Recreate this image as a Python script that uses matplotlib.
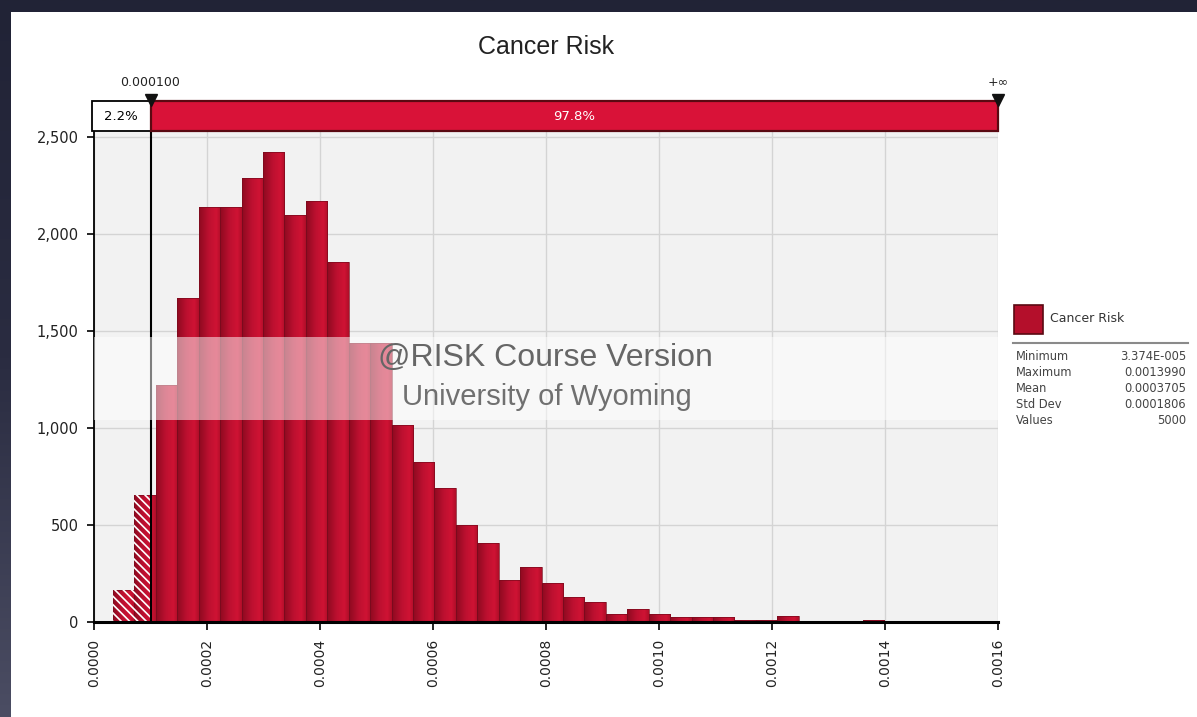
import numpy as np
import matplotlib
matplotlib.use("Agg")
import matplotlib.pyplot as plt
from matplotlib.patches import Rectangle
from matplotlib.lines import Line2D
from matplotlib.ticker import FuncFormatter
from matplotlib.colors import LinearSegmentedColormap

# ---------------- data ----------------
chart_title = "Cancer Risk"
series_name = "Cancer Risk"
stat_min = 3.374e-5
stat_max = 0.0013990
# probability density per bin (36 equal bins from min to max)
densities = [165, 655, 1222, 1670, 2139, 2139, 2289, 2423, 2098, 2170,
             1856, 1438, 1438, 1015, 825, 690, 500, 407, 216, 283,
             200, 130, 105, 40, 65, 40, 25, 25, 25, 12,
             12, 30, 3, 2, 0, 12]
delimiter_left = 0.0001
delimiter_left_label = "0.000100"
delimiter_right_label = "+\u221e"
left_pct = "2.2%"
right_pct = "97.8%"
x_ticks = [0.0, 0.0002, 0.0004, 0.0006, 0.0008, 0.0010, 0.0012, 0.0014, 0.0016]
y_ticks = [0, 500, 1000, 1500, 2000, 2500]
stat_labels = ["Minimum", "Maximum", "Mean", "Std Dev", "Values"]
stat_values = ["3.374E-005", "0.0013990", "0.0003705", "0.0001806", "5000"]
watermark_1 = "@RISK Course Version"
watermark_2 = "University of Wyoming"

# ---------------- layout helpers ----------------
W, H = 1197, 717
fig = plt.figure(figsize=(W / 100, H / 100), dpi=100)
fx = lambda px: px / W
fy = lambda py: 1 - py / H

# background: dark frame with white panel
bg = fig.add_axes([0, 0, 1, 1], zorder=-10)
bg.axis("off")
bg_cmap = LinearSegmentedColormap.from_list("bg", ["#212336", "#2a2c41", "#4b4d63"])
bg.imshow(np.linspace(0, 1, 256).reshape(-1, 1), aspect="auto", cmap=bg_cmap,
          extent=[0, 1, 0, 1], origin="upper")
bg.set_xlim(0, 1)
bg.set_ylim(0, 1)
bg.add_patch(Rectangle((fx(11), 0), 1 - fx(11), 1 - 12 / H, color="white", lw=0))

# ---------------- main axes ----------------
ax_l, ax_r, ax_t, ax_b = 94, 998, 132, 622
ax = fig.add_axes([fx(ax_l), fy(ax_b), (ax_r - ax_l) / W, (ax_b - ax_t) / H])
ax.set_facecolor("#f2f2f2")
ax.set_xlim(x_ticks[0], x_ticks[-1])
ax.set_ylim(0, 2526)
ax.set_xticks(x_ticks)
ax.set_yticks(y_ticks)
ax.xaxis.set_major_formatter(FuncFormatter(lambda v, p: f"{v:.4f}"))
ax.yaxis.set_major_formatter(FuncFormatter(lambda v, p: f"{int(v):,}"))
ax.set_axisbelow(True)
ax.grid(True, color="#d4d4d4", lw=1.0)
for s in ["top", "right"]:
    ax.spines[s].set_visible(False)
ax.spines["left"].set_linewidth(1.3)
ax.spines["bottom"].set_linewidth(2.2)
ax.tick_params(axis="x", direction="out", length=6, width=1.2, labelsize=10,
               labelrotation=90, labelcolor="#222222", pad=6)
ax.tick_params(axis="y", direction="out", length=5, width=1.2, labelsize=10.5,
               labelcolor="#222222", pad=6)

# bars
edges = np.linspace(stat_min, stat_max, len(densities) + 1)
widths = np.diff(edges)
bars = ax.bar(edges[:-1], densities, width=widths, align="edge",
              color="#b80f2b", edgecolor="none", linewidth=0, zorder=2)
bar_cmap = LinearSegmentedColormap.from_list(
    "bar", [(0, "#8e0a20"), (0.45, "#bd1030"), (0.8, "#cf1334"), (1, "#b00e29")])
grad = np.linspace(0, 1, 64).reshape(1, -1)
for p in bars:
    x0, w, h = p.get_x(), p.get_width(), p.get_height()
    if h <= 0:
        continue
    im = ax.imshow(grad, extent=[x0, x0 + w, 0, h], aspect="auto", cmap=bar_cmap,
                   zorder=2.1, interpolation="bilinear")
    im.set_clip_path(p)
ax.bar(edges[:-1], densities, width=widths, align="edge", facecolor="none",
       edgecolor="#7a0b1d", linewidth=0.5, zorder=2.3)

# hatched part left of delimiter
plt.rcParams["hatch.linewidth"] = 1.2
clip_rect = Rectangle((0, 0), delimiter_left, 1, transform=ax.get_xaxis_transform())
hb = ax.bar(edges[:-1], densities, width=widths, align="edge", facecolor="none",
            edgecolor="white", hatch="\\\\\\\\", linewidth=0, zorder=2.4)
for p in hb:
    p.set_clip_path(clip_rect)

ax.axvline(delimiter_left, color="black", lw=1.5, zorder=5)
ax.set_xlim(x_ticks[0], x_ticks[-1])
ax.set_ylim(0, 2526)

# watermark band + text
band = Rectangle((fx(ax_l), fy(420)), (ax_r - ax_l) / W, 83 / H, transform=fig.transFigure,
                 facecolor="white", alpha=0.5, lw=0, zorder=6)
ax.add_patch(band)
band.set_clip_on(False)
fig.text(fx(545), fy(358), watermark_1, ha="center", va="center", fontsize=23,
         family="Liberation Sans", color="#666666", zorder=10)
fig.text(fx(547), fy(397), watermark_2, ha="center", va="center", fontsize=21,
         family="Liberation Sans", color="#707070", zorder=10)

# ---------------- delimiter bar ----------------
dax = fig.add_axes([fx(ax_l), fy(131), (ax_r - ax_l) / W, 30 / H])
dax.set_xlim(x_ticks[0], x_ticks[-1])
dax.set_ylim(0, 1)
dax.axis("off")
x_box_left = -0.0000035
dax.add_patch(Rectangle((x_box_left, 0), delimiter_left - x_box_left, 1, facecolor="white",
                        edgecolor="black", lw=1.3, clip_on=False))
dax.add_patch(Rectangle((delimiter_left, 0), x_ticks[-1] - delimiter_left, 1,
                        facecolor="#d91238", edgecolor="#5a0912", lw=1.6, clip_on=False))
dax.text((x_box_left + delimiter_left) / 2, 0.5, left_pct, ha="center", va="center",
         fontsize=9.5, color="black")
dax.text((delimiter_left + x_ticks[-1]) / 2, 0.5, right_pct, ha="center", va="center",
         fontsize=9.5, color="white")
dax.plot([delimiter_left, x_ticks[-1]], [1.05, 1.05], ls="none", marker="v", ms=9,
         color="#111111", clip_on=False)
dax.text(delimiter_left, 1.6, delimiter_left_label, ha="center", va="center",
         fontsize=9, color="#222222")
dax.text(x_ticks[-1], 1.6, delimiter_right_label, ha="center", va="center",
         fontsize=9, color="#222222")

# title
fig.text(fx(546), fy(47), chart_title, ha="center", va="center", fontsize=18,
         family="Liberation Sans", color="#222222")

# ---------------- legend ----------------
fig.patches.append(Rectangle((fx(1014), fy(334)), 29 / W, 29 / H, transform=fig.transFigure,
                             facecolor="#b40f2b", edgecolor="#5a0912", lw=1.2, figure=fig))
fig.text(fx(1050), fy(319), series_name, ha="left", va="center", fontsize=9,
         color="#333333")
fig.lines.append(Line2D([fx(1013), fx(1188)], [fy(343), fy(343)], transform=fig.transFigure,
                        color="#8a8a8a", lw=1.5, figure=fig))
row_y = [357, 373, 389, 405, 421]
for lab, val, yy in zip(stat_labels, stat_values, row_y):
    fig.text(fx(1016), fy(yy), lab, ha="left", va="center", fontsize=8.3, color="#444444")
    fig.text(fx(1186), fy(yy), val, ha="right", va="center", fontsize=8.3, color="#444444")

fig.savefig("out.png", dpi=100)
